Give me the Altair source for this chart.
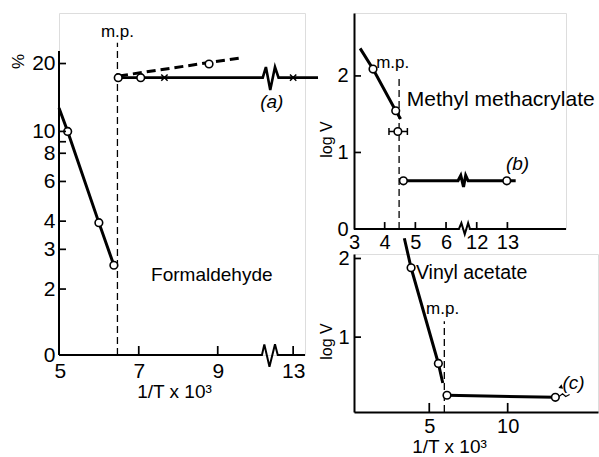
import altair as alt
import pandas as pd

FONT = "Liberation Sans, Arial, Helvetica, sans-serif"
INK = "black"

# ---------------- Panel (a): Formaldehyde  (x in display units; 13 is drawn at 10.91) ----------------
a_xticks = [7, 9, 10.91]
a_xlabels = [5, 7, 9, 10.91]
a_yticks = [2, 3, 4, 6, 8, 9, 10, 20]
a_ylabels = [1.02, 2, 3, 4, 6, 8, 10, 20]

a_steep_x = [4.98, 5.20, 5.99, 6.37]
a_steep_y = [12.7, 10.0, 3.94, 2.55]
a_steep_px = [5.20, 5.99, 6.37]
a_steep_py = [10.0, 3.94, 2.55]

a_flat_x = [6.45, 10.14, 10.22, 10.33, 10.45, 10.54, 11.54]
a_flat_y = [17.31, 17.31, 19.3, 15.25, 19.3, 17.31, 17.31]
a_flat_px = [6.48, 7.05]
a_flat_py = [17.31, 17.31]
a_cross_x = [7.65, 10.91]
a_cross_y = [17.31, 17.31]

a_dash_x = [6.50, 9.59]
a_dash_y = [17.62, 21.2]
a_dash_px = [8.78]
a_dash_py = [19.9]

a_mp_x = [6.46]
a_mp_top = [24.7]
a_mp_bottom = [1.02]

a_xaxis_x = [4.98, 10.12, 10.18, 10.31, 10.45, 10.52, 11.21]
a_xaxis_y = [1.02, 1.02, 1.137, 0.905, 1.137, 1.02, 1.02]
a_yaxis = {"x": [4.98], "y": [1.02], "y2": [22.7]}

a_text_x = [6.46, 10.37, 8.85]
a_text_y = [27.6, 13.55, 2.31]
a_text = ["m.p.", "(a)", "Formaldehyde"]

# ---------------- Panel (b): Methyl methacrylate  (12 -> 7, 13 -> 8 on display axis) ----------------
b_xlabels = [3, 4, 5, 6, 7, 8]
b_xticks = [4, 5, 6, 7, 8]
b_ylabels = [0, 1, 2]
b_yticks = [1, 2]

b_steep_x = [3.20, 3.62, 4.36, 4.52]
b_steep_y = [2.36, 2.09, 1.545, 1.436]
b_steep_px = [3.62, 4.36]
b_steep_py = [2.09, 1.545]

b_err_x = [4.43]
b_err_y = [1.274]
b_err_lo = [4.14]
b_err_hi = [4.74]

b_flat_x = [4.61, 6.39, 6.48, 6.57, 6.64, 6.72, 8.27]
b_flat_y = [0.63, 0.63, 0.70, 0.55, 0.70, 0.63, 0.63]
b_flat_px = [4.61, 7.98]
b_flat_py = [0.63, 0.63]

b_mp_x = [4.47]
b_mp_top = [2.0]
b_mp_bottom = [0.0]

b_xaxis_x = [3.0, 6.42, 6.50, 6.61, 6.72, 6.78, 9.91]
b_xaxis_y = [0.0, 0.0, 0.078, -0.07, 0.078, 0.0, 0.0]

b_text_x = [4.26, 8.33]
b_text_y = [2.17, 0.85]
b_text = ["m.p.", "(b)"]
b_name = "Methyl methacrylate"
b_name_x = [4.72]
b_name_y = [1.68]

# ---------------- Panel (c): Vinyl acetate ----------------
c_xlabels = [0, 5, 10]
c_xticks = [5, 10]
c_ylabels = [1, 2]
c_yticks = [1, 2]

c_steep_x = [3.41, 3.84, 5.58, 5.86]
c_steep_y = [2.257, 1.882, 0.665, 0.417]
c_steep_px = [3.84, 5.58]
c_steep_py = [1.882, 0.665]

c_flat_x = [6.13, 13.04]
c_flat_y = [0.261, 0.235]
c_tail_x = [13.04, 13.3, 13.5, 13.7, 13.95]
c_tail_y = [0.235, 0.25, 0.28, 0.245, 0.27]

c_mp_x = [5.96]
c_mp_top = [1.203]
c_mp_bottom = [0.048]

c_text_x = [5.85, 14.2]
c_text_y = [1.355, 0.417]
c_text = ["m.p.", "(c)"]
c_name = "Vinyl acetate"
c_name_x = [4.15]
c_name_y = [1.815]
c_arrow_x = [13.36]
c_arrow_y = [0.363]


def D(**cols):
    return alt.Data(values=pd.DataFrame(cols).to_dict("records"))


def axis_common(**kw):
    base = dict(domain=False, ticks=False, tickSize=0, grid=False, labelFont=FONT,
                labelColor=INK, titleFont=FONT, titleColor=INK, titleFontWeight="normal",
                labelFlush=False, labelOverlap=False, titleAlign="center", titleBaseline="middle")
    base.update(kw)
    return alt.Axis(**base)


def panel(X, Y, W, H, xt, yt, x0, x1, y0, y1, hx, hy, layers):
    # inward-pointing tick marks as thin filled rectangles (data units):
    # x ticks rise from y0 to y1 with half-width hx; y ticks run from x0 to x1 with half-height hy
    # (for a log y-scale hy is a multiplicative factor)
    rows_x = [{"x": v - hx, "x2": v + hx, "y": y0, "y2": y1} for v in xt]
    if isinstance(hy, tuple):
        rows_y = [{"x": x0, "x2": x1, "y": v / hy[0], "y2": v * hy[0]} for v in yt]
    else:
        rows_y = [{"x": x0, "x2": x1, "y": v - hy, "y2": v + hy} for v in yt]
    tx = alt.Chart(alt.Data(values=rows_x)).mark_rect(color=INK, opacity=1).encode(
        x=X, x2=alt.X2("x2:Q"), y=Y, y2=alt.Y2("y2:Q"))
    ty = alt.Chart(alt.Data(values=rows_y)).mark_rect(color=INK, opacity=1).encode(
        x=X, x2=alt.X2("x2:Q"), y=Y, y2=alt.Y2("y2:Q"))
    return alt.layer(*layers, tx, ty).properties(width=W, height=H)


def line(data, X, Y, width=3.0, dash=None):
    kw = dict(color=INK, strokeWidth=width, strokeCap="butt")
    if dash:
        kw["strokeDash"] = dash
    return alt.Chart(data).mark_line(**kw).encode(x=X, y=Y)


def circles(data, X, Y, size=58):
    return alt.Chart(data).mark_point(shape="circle", filled=True, fill="white", stroke=INK,
                                      strokeWidth=1.6, size=size, opacity=1).encode(x=X, y=Y)


def mp_rule(data, X, Y):
    return alt.Chart(data).mark_rule(color=INK, strokeWidth=1.3, strokeDash=[7, 4]).encode(
        x=X, y=Y, y2=alt.Y2("y2:Q"))


def texts(data, X, Y, size, align="center", style="normal"):
    return alt.Chart(data).mark_text(font=FONT, fontSize=size, align=align, baseline="middle",
                                     fontStyle=style, color=INK).encode(x=X, y=Y, text="t:N")


# ---------- Panel A ----------
WA, HA = 246, 342
XA = alt.X("x:Q", scale=alt.Scale(domain=[4.98, 11.21], nice=False, zero=False),
           axis=axis_common(values=a_xlabels,
                            labelExpr="datum.value > 10 ? '13' : format(datum.value, 'd')",
                            labelPadding=5, labelFontSize=21, title="1/T x 10³",
                            titleFontSize=19, titleX=115, titleY=36))
YA = alt.Y("y:Q", scale=alt.Scale(type="log", domain=[1.02, 33.5], nice=False),
           axis=axis_common(values=a_ylabels,
                            labelExpr="datum.value < 1.5 ? '0' : format(datum.value, 'd')",
                            labelPadding=4, labelFontSize=21, title="%", titleFontSize=17,
                            titleAngle=270, titleX=-40.5, titleY=48))

pa = panel(XA, YA, WA, HA, a_xticks, a_yticks, 4.98, 5.157, 1.02, 1.118, 0.022, (1.0087,), [
    line(D(x=a_xaxis_x, y=a_xaxis_y), XA, YA, width=2),
    alt.Chart(D(**a_yaxis)).mark_rule(color=INK, strokeWidth=2).encode(x=XA, y=YA, y2=alt.Y2("y2:Q")),
    mp_rule(D(x=a_mp_x, y=a_mp_bottom, y2=a_mp_top), XA, YA),
    line(D(x=a_steep_x, y=a_steep_y), XA, YA),
    line(D(x=a_flat_x, y=a_flat_y), XA, YA, width=2.6),
    line(D(x=a_dash_x, y=a_dash_y), XA, YA, width=3, dash=[9, 5]),
    circles(D(x=a_steep_px, y=a_steep_py), XA, YA),
    circles(D(x=a_flat_px, y=a_flat_py), XA, YA),
    circles(D(x=a_dash_px, y=a_dash_py), XA, YA),
    alt.Chart(D(x=a_cross_x, y=a_cross_y)).mark_point(
        shape="M-1,-1L1,1M-1,1L1,-1", stroke=INK, strokeWidth=1.5, size=40, filled=False,
        opacity=1).encode(x=XA, y=YA),
    texts(D(x=a_text_x[:1], y=a_text_y[:1], t=a_text[:1]), XA, YA, 17),
    texts(D(x=a_text_x[1:2], y=a_text_y[1:2], t=a_text[1:2]), XA, YA, 19, style="italic"),
    texts(D(x=a_text_x[2:], y=a_text_y[2:], t=a_text[2:]), XA, YA, 19),
])

# ---------- Panel B ----------
WB, HB = 212, 216
XB = alt.X("x:Q", scale=alt.Scale(domain=[3, 9.91], nice=False, zero=False),
           axis=axis_common(values=b_xlabels,
                            labelExpr="datum.value >= 7 ? format(datum.value + 5, 'd') : format(datum.value, 'd')",
                            labelPadding=3, labelFontSize=20, title=""))
YB = alt.Y("y:Q", scale=alt.Scale(domain=[0, 2.822], nice=False, zero=False),
           axis=axis_common(values=b_ylabels, domain=True, domainColor=INK, domainWidth=2,
                            labelExpr="format(datum.value, 'd')",
                            labelPadding=6, labelFontSize=20, title="log V", titleFontSize=16,
                            titleAngle=270, titleX=-28, titleY=126))

pb = panel(XB, YB, WB, HB, b_xticks, b_yticks, 3.0, 3.228, 0.0, 0.091, 0.028, 0.011, [
    line(D(x=b_xaxis_x, y=b_xaxis_y), XB, YB, width=2),
    mp_rule(D(x=b_mp_x, y=b_mp_bottom, y2=b_mp_top), XB, YB),
    line(D(x=b_steep_x, y=b_steep_y), XB, YB),
    line(D(x=b_flat_x, y=b_flat_y), XB, YB),
    alt.Chart(D(x=b_err_lo, x2=b_err_hi, y=b_err_y)).mark_rule(color=INK, strokeWidth=1.5).encode(
        x=XB, x2=alt.X2("x2:Q"), y=YB),
    alt.Chart(D(x=b_err_lo + b_err_hi, y=b_err_y * 2)).mark_tick(
        color=INK, orient="vertical", size=7, thickness=1.5, opacity=1).encode(x=XB, y=YB),
    circles(D(x=b_steep_px, y=b_steep_py), XB, YB),
    circles(D(x=b_err_x, y=b_err_y), XB, YB),
    circles(D(x=b_flat_px, y=b_flat_py), XB, YB),
    texts(D(x=b_text_x[:1], y=b_text_y[:1], t=b_text[:1]), XB, YB, 17),
    texts(D(x=b_text_x[1:], y=b_text_y[1:], t=b_text[1:]), XB, YB, 19, style="italic"),
    texts(D(x=b_name_x, y=b_name_y, t=[b_name]), XB, YB, 21, align="left"),
])

# ---------- Panel C ----------
WC, HC = 244, 158
XC = alt.X("x:Q", scale=alt.Scale(domain=[0.2, 15.76], nice=False, zero=False),
           axis=axis_common(values=c_xlabels, domain=True, domainColor=INK, domainWidth=2,
                            labelExpr="format(datum.value, 'd')",
                            labelPadding=4, labelFontSize=20, title="1/T x 10³",
                            titleFontSize=19, titleX=95, titleY=34))
YC = alt.Y("y:Q", scale=alt.Scale(domain=[0.048, 2.057], nice=False, zero=False),
           axis=axis_common(values=c_ylabels, domain=True, domainColor=INK, domainWidth=2,
                            labelExpr="format(datum.value, 'd')",
                            labelPadding=5, labelFontSize=20, title="log V", titleFontSize=16,
                            titleAngle=270, titleX=-28, titleY=87))

pc = panel(XC, YC, WC, HC, c_xticks, c_yticks, 0.2, 0.646, 0.048, 0.163, 0.055, 0.011, [
    mp_rule(D(x=c_mp_x, y=c_mp_bottom, y2=c_mp_top), XC, YC),
    line(D(x=c_steep_x, y=c_steep_y), XC, YC),
    line(D(x=c_flat_x, y=c_flat_y), XC, YC),
    line(D(x=c_tail_x, y=c_tail_y), XC, YC, width=1.2),
    circles(D(x=c_steep_px, y=c_steep_py), XC, YC),
    circles(D(x=c_flat_x, y=c_flat_y), XC, YC),
    alt.Chart(D(x=c_arrow_x, y=c_arrow_y)).mark_point(
        shape="triangle-left", filled=True, color=INK, size=22, angle=340, opacity=1).encode(x=XC, y=YC),
    texts(D(x=c_text_x[:1], y=c_text_y[:1], t=c_text[:1]), XC, YC, 17),
    texts(D(x=c_text_x[1:], y=c_text_y[1:], t=c_text[1:]), XC, YC, 19, style="italic"),
    texts(D(x=c_name_x, y=c_name_y, t=[c_name]), XC, YC, 19.5, align="left"),
])

right = alt.vconcat(pb, pc, spacing=25, bounds="flush")
chart = alt.hconcat(pa, right, spacing=49, bounds="flush").properties(
    padding={"left": 9, "top": 12, "right": 0, "bottom": 0}
).configure_view(stroke=None).configure(background="white")

chart.save("out.html", embed_options={"renderer": "svg", "actions": False})
